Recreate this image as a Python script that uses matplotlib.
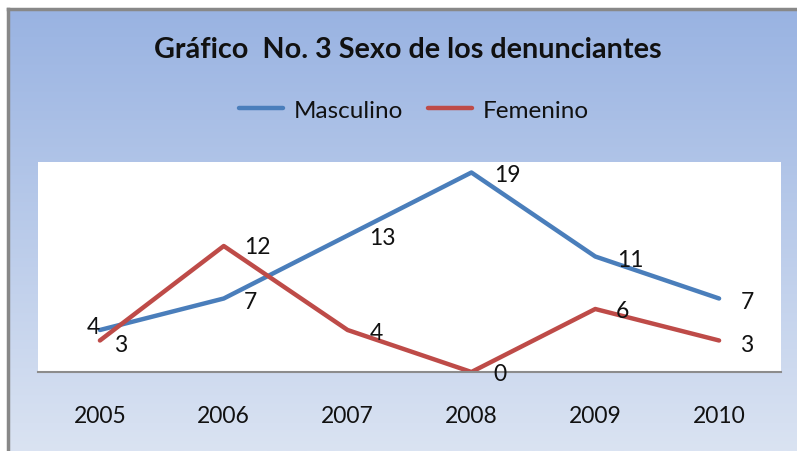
import numpy as np
import matplotlib
matplotlib.use("Agg")
import matplotlib.pyplot as plt
from matplotlib import font_manager as fm
from matplotlib.colors import LinearSegmentedColormap

years = ["2005", "2006", "2007", "2008", "2009", "2010"]
masculino = [4, 7, 13, 19, 11, 7]
femenino = [3, 12, 4, 0, 6, 3]
title = "Gráfico  No. 3 Sexo de los denunciantes"
series_names = ["Masculino", "Femenino"]

# label offsets in pixels (styling)
off_m = [(-7, 4), (27, -3), (35, -2), (36, -2), (35, -3), (28, -3)]
off_f = [(21, -4), (34, -1), (29, -2), (29, -2), (27, -2), (28, -4)]

names = {f.name for f in fm.fontManager.ttflist}
FONT = "Liberation Sans Narrow" if "Liberation Sans Narrow" in names else "Lato"
plt.rcParams["font.family"] = [FONT, "DejaVu Sans"]

W, H = 797, 452
fig = plt.figure(figsize=(W / 100, H / 100), dpi=100)
fig.patch.set_facecolor("white")

# background gradient
bg = fig.add_axes([9 / W, 0, (W - 9) / W, (H - 10) / H])
cmap = LinearSegmentedColormap.from_list("g", ["#99B3E2", "#DAE3F2"])
grad = np.linspace(0, 1, 256).reshape(-1, 1)
bg.imshow(grad, aspect="auto", cmap=cmap, extent=[0, 1, 0, 1], origin="upper")
bg.set_axis_off()
# border lines
fig.add_artist(plt.Line2D([8 / W, 1], [1 - 10 / H, 1 - 10 / H], color="#888888", lw=2.5, transform=fig.transFigure))
fig.add_artist(plt.Line2D([8 / W, 8 / W], [0, 1 - 10 / H], color="#888888", lw=2.5, transform=fig.transFigure))

# plot area
x0, x1, yt, yb = 38, 781, 163, 373
ax = fig.add_axes([x0 / W, 1 - yb / H, (x1 - x0) / W, (yb - yt) / H])
ax.set_facecolor("white")
x = np.arange(len(years))
blue = "#4A7EBB"
red = "#BE4B48"
lm, = ax.plot(x, masculino, color=blue, lw=3.2, solid_capstyle="round", solid_joinstyle="round")
lf, = ax.plot(x, femenino, color=red, lw=3.2, solid_capstyle="round", solid_joinstyle="round")
ax.set_xlim(-0.5, len(years) - 0.5)
ax.set_ylim(0, 20)
ax.set_yticks([])
ax.set_xticks(x)
ax.set_xticklabels(years, fontsize=16.5, color="#111111")
ax.tick_params(axis="x", length=0, pad=24)
for s in ["top", "right", "left"]:
    ax.spines[s].set_visible(False)
ax.spines["bottom"].set_color("#8C8C8C")
ax.spines["bottom"].set_linewidth(1.5)

for xi, v, o in zip(x, masculino, off_m):
    ax.annotate(str(v), (xi, v), xytext=o, textcoords="offset pixels",
                ha="center", va="center", fontsize=16.5, color="#111111", clip_on=False)
for xi, v, o in zip(x, femenino, off_f):
    ax.annotate(str(v), (xi, v), xytext=o, textcoords="offset pixels",
                ha="center", va="center", fontsize=16.5, color="#111111", clip_on=False)

fig.text(408 / W, 1 - 50 / H, title, ha="center", va="center", fontsize=20.7,
         fontweight="bold", color="#111111")
fig.legend([lm, lf], series_names, loc="center", bbox_to_anchor=(414 / W, 1 - 111 / H),
           ncol=2, frameon=False, fontsize=17.5, handlelength=1.8, handletextpad=0.45,
           columnspacing=1.0, labelcolor="#111111")

fig.savefig("out.png", dpi=100)
